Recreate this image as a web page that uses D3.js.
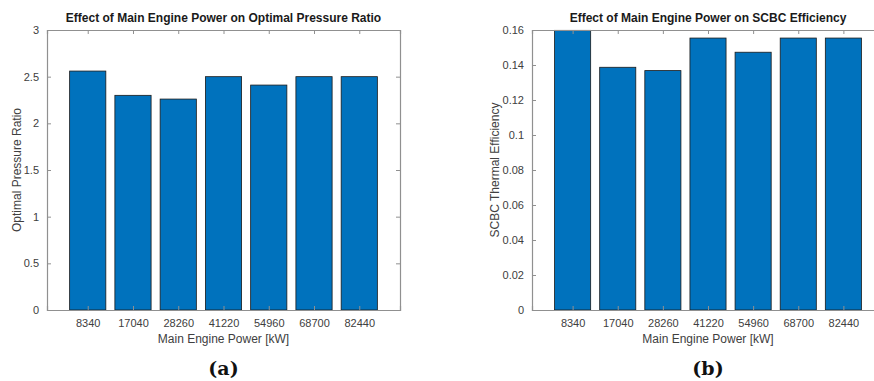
<!DOCTYPE html>
<html>
<head>
<meta charset="utf-8">
<script src="https://cdn.jsdelivr.net/npm/d3@7"></script>
<style>
    body { margin: 0; background: #fff; }
    svg { display: block; font-family: "Liberation Sans", Arial, sans-serif; }
</style>
</head>
<body>
<svg id="chart" width="874" height="381"></svg>
<script>

var powers = ["8340", "17040", "28260", "41220", "54960", "68700", "82440"];

var pressureRatio = [2.56, 2.30, 2.26, 2.50, 2.41, 2.50, 2.50];
var efficiency    = [0.1598, 0.1387, 0.1368, 0.1554, 0.1473, 0.1554, 0.1554];

var ratioTicks      = [0, 0.5, 1, 1.5, 2, 2.5, 3];
var efficiencyTicks = [0, 0.02, 0.04, 0.06, 0.08, 0.1, 0.12, 0.14, 0.16];

var svg = d3.select("#chart");

function panel (opts) {

    var x, y, g, w, h, step;

    w = opts.right - opts.left;
    h = opts.bottom - opts.top;

    // matlab style: categories at 1..n, xlim [0.1, n + 0.9]
    x = d3.scaleLinear().domain([0.1, powers.length + 0.9]).range([0, w]);
    y = d3.scaleLinear().domain(opts.domain).range([h, 0]);
    step = x(2) - x(1);

    g = svg.append("g")
        .attr("transform", "translate(" + opts.left + "," + opts.top + ")");

    g.selectAll("rect.bar")
        .data(opts.values)
        .enter()
        .append("rect")
        .attr("class", "bar")
        .attr("x", function (d, i) { return x(i + 1) - step * 0.4; })
        .attr("width", step * 0.8)
        .attr("y", function (d) { return y(d); })
        .attr("height", function (d) { return h - y(d); })
        .attr("fill", "#0072bd")
        .attr("stroke", "#1a1a1a")
        .attr("stroke-width", 0.8);

    var ticksX = d3.range(1, powers.length + 1);

    // bottom axis, ticks pointing inside
    g.append("g")
        .attr("transform", "translate(0," + h + ")")
        .call(d3.axisBottom(x).tickValues(ticksX).tickSize(-4).tickPadding(9)
            .tickFormat(function (d) { return powers[d - 1]; }));

    g.append("g")
        .call(d3.axisTop(x).tickValues(ticksX).tickSize(-4).tickFormat(""));

    g.append("g")
        .call(d3.axisLeft(y).tickValues(opts.ticks).tickSize(-4).tickPadding(8)
            .tickFormat(function (d) { return String(d); }));

    g.append("g")
        .attr("transform", "translate(" + w + ",0)")
        .call(d3.axisRight(y).tickValues(opts.ticks).tickSize(-4).tickFormat(""));

    g.selectAll(".domain").attr("stroke", "#909090").attr("stroke-width", 1.2);
    g.selectAll(".tick line").attr("stroke", "#909090");
    g.selectAll(".tick text")
        .attr("fill", "#404040")
        .style("font-size", "11px")
        .style("font-family", "'Liberation Sans', Arial, sans-serif");

    g.append("text")
        .attr("x", w / 2)
        .attr("y", -8)
        .attr("text-anchor", "middle")
        .attr("font-size", "12px")
        .attr("font-weight", "bold")
        .attr("fill", "#1a1a1a")
        .text(opts.title);

    g.append("text")
        .attr("x", w / 2)
        .attr("y", h + 33)
        .attr("text-anchor", "middle")
        .attr("font-size", "12px")
        .attr("fill", "#404040")
        .text("Main Engine Power [kW]");

    g.append("text")
        .attr("transform", "translate(" + opts.ylabelX + "," + (h / 2) + ") rotate(-90)")
        .attr("text-anchor", "middle")
        .attr("font-size", "12px")
        .attr("fill", "#404040")
        .text(opts.ylabel);

    g.append("text")
        .attr("x", w / 2)
        .attr("y", h + 65)
        .attr("text-anchor", "middle")
        .attr("font-family", "'DejaVu Serif', 'Liberation Serif', serif")
        .attr("font-weight", "bold")
        .attr("font-size", "19px")
        .attr("fill", "#111")
        .text(opts.letter);
}

panel({
    left: 47, right: 400, top: 30, bottom: 310,
    values: pressureRatio, domain: [0, 3], ticks: ratioTicks,
    title: "Effect of Main Engine Power on Optimal Pressure Ratio",
    ylabel: "Optimal Pressure Ratio", ylabelX: -26, letter: "(a)"
});

panel({
    left: 532, right: 884, top: 30, bottom: 310,
    values: efficiency, domain: [0, 0.16], ticks: efficiencyTicks,
    title: "Effect of Main Engine Power on SCBC Efficiency",
    ylabel: "SCBC Thermal Efficiency", ylabelX: -33, letter: "(b)"
});

</script>
</body>
</html>
